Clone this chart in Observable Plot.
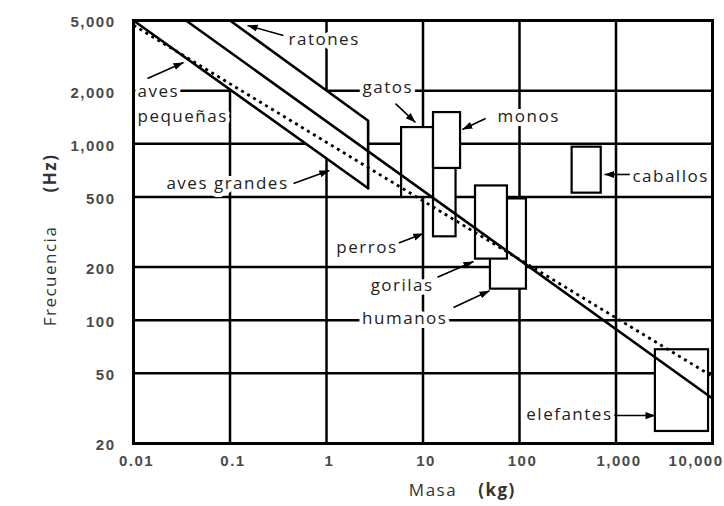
<!DOCTYPE html>
<html>
<head>
<meta charset="utf-8">
<script src="https://cdn.jsdelivr.net/npm/d3@7"></script>
<script src="https://cdn.jsdelivr.net/npm/@observablehq/plot@0.6"></script>
<style>
  html, body { margin: 0; padding: 0; background: #fff; }
  #chart svg { display: block; letter-spacing: 1.5px; }
  #chart g[aria-label="x-axis tick label"], #chart g[aria-label="y-axis tick label"] { letter-spacing: 1.5px; }
</style>
</head>
<body>
<div id="chart"></div>
<script>
// Axis ticks
const xTicks = [0.01, 0.1, 1, 10, 100, 1000, 10000];
const xTickLabels = ["0.01", "0.1", "1", "10", "100", "1,000", "10,000"];
const yTicks = [20, 50, 100, 200, 500, 1000, 2000, 5000];
const yTickLabels = ["20", "50", "100", "200", "500", "1,000", "2,000", "5,000"];

// Scaling lines (mass kg, frequency Hz)
const avesGrandesMass = [0.01, 2.7];
const avesGrandesFreq = [5000, 560];
const generalMass = [0.035, 10000];
const generalFreq = [5000, 36];
const ratonesMass = [0.1, 2.7, 2.7];
const ratonesFreq = [5000, 1350, 560];
const dottedMass = [0.01, 10000];
const dottedFreq = [4700, 48];
// White band (birds / mice region)
const bandMass = [0.01, 0.1, 2.7, 2.7];
const bandFreq = [5000, 5000, 1350, 560];

// Species boxes
const boxNames = ["perros", "humanos", "gatos", "monos", "gorilas", "caballos", "elefantes"];
const boxMassMin = [12.85, 50, 6.0, 12.85, 35, 351, 2560];
const boxMassMax = [22, 118, 12.85, 24.5, 75, 703, 9100];
const boxFreqMin = [297, 150, 497, 725, 222, 525, 23.4];
const boxFreqMax = [725, 487, 1236, 1503, 577, 957, 68];

// Labels (left-anchored)
const leftLabelText = ["ratones", "aves", "pequeñas", "gatos", "monos", "caballos"];
const leftLabelMass = [0.404, 0.011, 0.011, 2.36, 59.2, 1480];
const leftLabelFreq = [3900, 1980, 1430, 2086, 1430, 653];
// Labels (right-anchored)
const rightLabelText = ["aves grandes", "perros", "gorilas", "humanos", "elefantes"];
const rightLabelMass = [0.404, 5.44, 12.9, 17.9, 920];
const rightLabelFreq = [596, 258, 157, 102, 29];

// Arrows
const arrowFromMass = [0.358, 0.01396, 5.19, 44.5, 1413, 0.455, 5.44, 14.1, 20.7, 942];
const arrowFromFreq = [4110, 2345, 1690, 1390, 670, 596, 272, 175, 118, 28.8];
const arrowToMass = [0.152, 0.033, 8.36, 25.6, 760, 1.07, 10.1, 33.4, 48.9, 2565];
const arrowToFreq = [4690, 2890, 1321, 1205, 670, 706, 310, 215, 147, 28.8];

const pts = (m, f) => m.map((x, i) => ({x, y: f[i]}));
const boxes = boxNames.map((n, i) => ({n, m0: boxMassMin[i], m1: boxMassMax[i], f0: boxFreqMin[i], f1: boxFreqMax[i]}));
const leftLabels = leftLabelText.map((t, i) => ({t, x: leftLabelMass[i], y: leftLabelFreq[i]}));
const rightLabels = rightLabelText.map((t, i) => ({t, x: rightLabelMass[i], y: rightLabelFreq[i]}));
const arrows = arrowFromMass.map((m, i) => ({x1: m, y1: arrowFromFreq[i], x2: arrowToMass[i], y2: arrowToFreq[i]}));
const xLab = new Map(xTicks.map((t, i) => [t, xTickLabels[i]]));
const yLab = new Map(yTicks.map((t, i) => [t, yTickLabels[i]]));

// Filled triangular arrowhead marker
function filledHead(color) {
  const m = d3.create("svg:marker")
    .attr("viewBox", "-10 -5 10 10")
    .attr("markerWidth", 10)
    .attr("markerHeight", 10)
    .attr("markerUnits", "userSpaceOnUse")
    .attr("orient", "auto")
    .attr("fill", color)
    .attr("stroke", "none");
  m.append("path").attr("d", "M-10,-3.6L0,0L-10,3.6Z");
  return m.node();
}

const annFont = "'Open Sans', sans-serif";
const tickFont = "'Liberation Sans', Arial, sans-serif";
const tickStyle = {tickSize: 0, fontSize: 15, fontFamily: tickFont, fontWeight: "bold", fill: "#4a4a4a", label: null};

const chart = Plot.plot({
  width: 724,
  height: 506,
  marginLeft: 133,
  marginRight: 12,
  marginTop: 20,
  marginBottom: 63,
  style: {background: "white", fontFamily: annFont, color: "#111"},
  x: {type: "log", domain: [0.01, 10000], label: null},
  y: {type: "log", domain: [20, 5000], label: null},
  marks: [
    Plot.gridX(xTicks, {stroke: "#000", strokeOpacity: 1, strokeWidth: 2.5}),
    Plot.gridY(yTicks, {stroke: "#000", strokeOpacity: 1, strokeWidth: 2.5}),
    Plot.line(pts(bandMass, bandFreq), {x: "x", y: "y", fill: "white", stroke: "none"}),
    Plot.rect(boxes, {x1: "m0", x2: "m1", y1: "f0", y2: "f1", fill: "white", stroke: "#000", strokeWidth: 2.2}),
    Plot.line(pts(avesGrandesMass, avesGrandesFreq), {x: "x", y: "y", stroke: "#000", strokeWidth: 2.6}),
    Plot.line(pts(generalMass, generalFreq), {x: "x", y: "y", stroke: "#000", strokeWidth: 2.6}),
    Plot.line(pts(ratonesMass, ratonesFreq), {x: "x", y: "y", stroke: "#000", strokeWidth: 2.6, strokeLinejoin: "miter"}),
    Plot.line(pts(dottedMass, dottedFreq), {x: "x", y: "y", stroke: "#000", strokeWidth: 2.8, strokeDasharray: "3,4", strokeLinecap: "butt"}),
    Plot.link(arrows, {x1: "x1", y1: "y1", x2: "x2", y2: "y2", stroke: "#000", strokeWidth: 1.6, markerEnd: filledHead}),
    Plot.text(leftLabels, {x: "x", y: "y", text: "t", textAnchor: "start", fontSize: 17, fill: "#222", stroke: "white", strokeWidth: 8, fontFamily: annFont}),
    Plot.text(rightLabels, {x: "x", y: "y", text: "t", textAnchor: "end", fontSize: 17, fill: "#222", stroke: "white", strokeWidth: 8, fontFamily: annFont}),
    Plot.frame({stroke: "#000", strokeWidth: 3}),
    Plot.axisX(xTicks.slice(0, -1), {...tickStyle, tickFormat: d => xLab.get(d), tickPadding: 12, dx: 3}),
    Plot.axisX(xTicks.slice(-1), {...tickStyle, tickFormat: d => xLab.get(d), tickPadding: 12, textAnchor: "end", dx: 11}),
    Plot.axisY(yTicks, {...tickStyle, tickFormat: d => yLab.get(d), tickPadding: 18, dy: 2}),
    Plot.text(["Frecuencia"], {frameAnchor: "left", textAnchor: "middle", rotate: -90, dx: -83, dy: 44, fontSize: 17, fill: "#333", fontFamily: annFont}),
    Plot.text(["(Hz)"], {frameAnchor: "left", textAnchor: "middle", rotate: -90, dx: -83, dy: -59, fontSize: 17, fontWeight: "bold", fill: "#333", fontFamily: annFont}),
    Plot.text(["Masa"], {frameAnchor: "bottom", textAnchor: "middle", dx: 10, dy: 52, fontSize: 17, fill: "#333", fontFamily: annFont}),
    Plot.text(["(kg)"], {frameAnchor: "bottom", textAnchor: "middle", dx: 74, dy: 52, fontSize: 17, fontWeight: "bold", fill: "#333", fontFamily: annFont})
  ]
});
document.getElementById("chart").appendChild(chart);
</script>
</body>
</html>
